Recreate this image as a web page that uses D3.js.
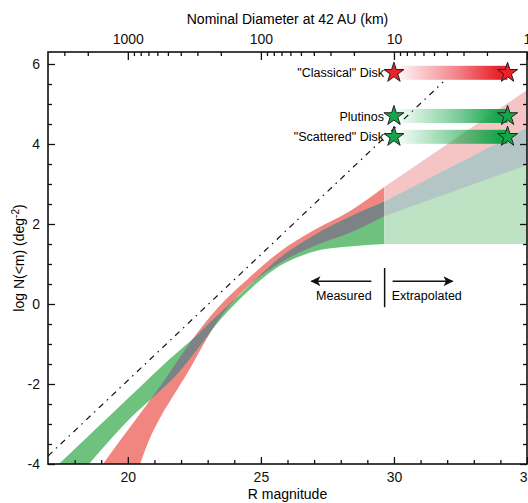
<!DOCTYPE html>
<html>
<head>
<meta charset="utf-8">
<script src="https://cdn.jsdelivr.net/npm/d3@7"></script>
<style>
  body { margin: 0; background: #fff; }
  svg { font-family: "Liberation Sans", Arial, Helvetica, sans-serif; }
</style>
</head>
<body>
<script>
// tick labels
const magTicks = [20, 25, 30, 35];
const nTicks = [-4, -2, 0, 2, 4, 6];
const diamTicks = [1000, 100, 10, 1];

// band edges in the measured range, [R mag, log N]
const redUpper = [[18.5,-4.53],[19.07,-4],[19.7,-3.42],[20.34,-2.85],[21.4,-1.88],[22.41,-0.9],[23.4,-0.08],[24.5,0.62],[25.7,1.3],[27,1.85],[28.34,2.32],[29.65,2.93]];
const redLower = [[20.2,-4.5],[20.46,-4],[20.8,-3.4],[21.25,-2.8],[21.8,-2.2],[22.35,-1.6],[22.85,-1.0],[23.35,-0.45],[24.0,0.1],[24.8,0.6],[25.7,1.02],[27,1.45],[28.34,1.78],[29.65,2.2]];
const greenUpper = [[16.9,-4.33],[17.41,-4],[18.5,-3.31],[19.5,-2.68],[20.5,-2.05],[21.5,-1.42],[22.45,-0.87],[23.4,-0.27],[24.5,0.42],[25.7,1.15],[27,1.72],[28.34,2.18],[29.65,2.56]];
const greenLower = [[18.0,-4.42],[18.54,-4],[19.33,-3.4],[20.1,-2.85],[21.0,-2.3],[21.9,-1.72],[22.7,-1.05],[23.4,-0.45],[24.1,0.05],[24.9,0.55],[25.7,0.95],[26.5,1.2],[27.3,1.36],[28.34,1.44],[29.65,1.5]];

// extrapolated part
const redUpperExt = [[29.65,2.93],[35,5.35]];
const redLowerExt = [[29.65,2.2],[35,3.475]];
const greenUpperExt = [[29.65,2.56],[35,4.4]];
const greenLowerExt = [[29.65,1.5],[35,1.5]];

// reference line
const refLine = [[17,-3.8],[31.85,5.55]];

const measuredLimit = 29.65;

// populations
const groups = ['"Classical" Disk', 'Plutinos', '"Scattered" Disk'];
const groupLogN = [5.78, 4.7, 4.18];
const starMags = [30, 34.27];

const groupFill = ["#e8212b", "#16a64a", "#16a64a"];

const W = 528, H = 503;
const pLeft = 48, pRight = 527, pTop = 52, pBottom = 464;

const svg = d3.select("body").append("svg")
  .attr("width", W)
  .attr("height", H);

const x = d3.scaleLinear().domain([17, 35]).range([pLeft, pRight]);
const y = d3.scaleLinear().domain([-4, 6.3]).range([pBottom, pTop]);

// diameter at 42 AU for a given R magnitude
const diam = m => 1000 * Math.pow(10, -(m - 20) / 5);
const xTop = d3.scaleLog().domain([diam(17), diam(35)]).range([pLeft, pRight]);

const defs = svg.append("defs");
defs.append("clipPath").attr("id", "plot")
  .append("rect").attr("x", pLeft).attr("y", pTop)
  .attr("width", pRight - pLeft).attr("height", pBottom - pTop);
defs.append("clipPath").attr("id", "meas")
  .append("rect").attr("x", pLeft).attr("y", pTop)
  .attr("width", x(measuredLimit) - pLeft).attr("height", pBottom - pTop);

const edge = d3.line().x(d => x(d[0])).y(d => y(d[1])).curve(d3.curveMonotoneX);
function bandPath(up, lo) {
  return edge(up) + "L" + edge(lo.slice().reverse()).slice(1) + "Z";
}

const plot = svg.append("g").attr("clip-path", "url(#plot)");

// measured region
const meas = plot.append("g").attr("clip-path", "url(#meas)");
const greenMeas = bandPath(greenUpper, greenLower);
const redMeas = bandPath(redUpper, redLower);
defs.append("clipPath").attr("id", "greenMeas").append("path").attr("d", greenMeas);
meas.append("path").attr("d", redMeas).attr("fill", "#f0867f");
meas.append("path").attr("d", greenMeas).attr("fill", "#6fc27e");
meas.append("g").attr("clip-path", "url(#greenMeas)")
  .append("path").attr("d", redMeas).attr("fill", "#7c8286");

// extrapolated region
const greenExt = bandPath(greenUpperExt, greenLowerExt);
const redExt = bandPath(redUpperExt, redLowerExt);
defs.append("clipPath").attr("id", "greenExt").append("path").attr("d", greenExt);
plot.append("path").attr("d", redExt).attr("fill", "#f5c4c4");
plot.append("path").attr("d", greenExt).attr("fill", "#bee2c4");
plot.append("g").attr("clip-path", "url(#greenExt)")
  .append("path").attr("d", redExt).attr("fill", "#b3c5c5");

// dash-dot line
plot.append("path")
  .attr("d", d3.line().x(d => x(d[0])).y(d => y(d[1]))(refLine))
  .attr("fill", "none")
  .attr("stroke", "#111")
  .attr("stroke-width", 1.2)
  .attr("stroke-dasharray", "6,5,1.5,5");

// gradient bars and stars
groups.forEach((g, i) => {
  const grad = defs.append("linearGradient").attr("id", "grad" + i)
    .attr("x1", "0%").attr("x2", "100%");
  grad.append("stop").attr("offset", "0%").attr("stop-color", groupFill[i]).attr("stop-opacity", 0);
  grad.append("stop").attr("offset", "55%").attr("stop-color", groupFill[i]).attr("stop-opacity", 0.55);
  grad.append("stop").attr("offset", "92%").attr("stop-color", groupFill[i]).attr("stop-opacity", 1);

  svg.append("rect")
    .attr("x", x(starMags[0]))
    .attr("y", y(groupLogN[i]) - 7)
    .attr("width", x(starMags[1]) - x(starMags[0]))
    .attr("height", 14)
    .attr("fill", "url(#grad" + i + ")");

  starMags.forEach(m => {
    svg.append("path")
      .attr("d", d3.symbol(d3.symbolStar, 125)())
      .attr("transform", "translate(" + x(m) + "," + y(groupLogN[i]) + ")")
      .attr("fill", groupFill[i])
      .attr("stroke", "#222")
      .attr("stroke-width", 1);
  });

  svg.append("text")
    .attr("x", x(starMags[0]) - 10)
    .attr("y", y(groupLogN[i]) + 4.5)
    .attr("text-anchor", "end")
    .style("font-size", "12.5px")
    .text(g);
});

// measured / extrapolated marker
const arrowY = 0.57;
defs.append("marker").attr("id", "head")
  .attr("viewBox", "0 0 10 10").attr("refX", 9).attr("refY", 5)
  .attr("markerWidth", 13).attr("markerHeight", 10)
  .attr("markerUnits", "userSpaceOnUse").attr("orient", "auto")
  .append("path").attr("d", "M0,0L10,5L0,10L2.5,5Z").attr("fill", "#111");

svg.append("line")
  .attr("x1", x(measuredLimit)).attr("x2", x(measuredLimit))
  .attr("y1", y(0.9)).attr("y2", y(-0.08))
  .attr("stroke", "#111").attr("stroke-width", 1.5);
svg.append("line")
  .attr("x1", x(29.15)).attr("x2", x(26.9))
  .attr("y1", y(arrowY)).attr("y2", y(arrowY))
  .attr("stroke", "#111").attr("stroke-width", 1.5)
  .attr("marker-end", "url(#head)");
svg.append("line")
  .attr("x1", x(29.95)).attr("x2", x(32.2))
  .attr("y1", y(arrowY)).attr("y2", y(arrowY))
  .attr("stroke", "#111").attr("stroke-width", 1.5)
  .attr("marker-end", "url(#head)");
svg.append("text")
  .attr("x", x(measuredLimit) - 13).attr("y", y(0.1))
  .attr("text-anchor", "end").style("font-size", "12.5px")
  .text("Measured");
svg.append("text")
  .attr("x", x(measuredLimit) + 7).attr("y", y(0.1))
  .attr("text-anchor", "start").style("font-size", "12.5px")
  .text("Extrapolated");

// axes
const minorMag = d3.range(18, 35).filter(v => v % 5 !== 0);
const minorN = d3.range(-3.5, 6.01, 0.5).filter(v => v % 2 !== 0);
const minorDiam = [];
[1, 10, 100, 1000].forEach(dec => {
  for (let k = 2; k <= 9; k++) {
    const v = k * dec;
    if (v < diam(17)) minorDiam.push(v);
  }
});

const fmt = d => String(d);

svg.append("g").attr("transform", "translate(0," + pBottom + ")")
  .call(d3.axisBottom(x).tickValues(magTicks).tickFormat(fmt).tickSizeInner(-7).tickSizeOuter(0).tickPadding(8));
svg.append("g").attr("transform", "translate(0," + pBottom + ")")
  .call(d3.axisBottom(x).tickValues(minorMag).tickFormat("").tickSizeInner(-4).tickSizeOuter(0));

svg.append("g").attr("transform", "translate(" + pLeft + ",0)")
  .call(d3.axisLeft(y).tickValues(nTicks).tickFormat(fmt).tickSizeInner(-7).tickSizeOuter(0).tickPadding(8));
svg.append("g").attr("transform", "translate(" + pLeft + ",0)")
  .call(d3.axisLeft(y).tickValues(minorN).tickFormat("").tickSizeInner(-4).tickSizeOuter(0));

svg.append("g").attr("transform", "translate(" + pRight + ",0)")
  .call(d3.axisRight(y).tickValues(nTicks).tickFormat("").tickSizeInner(-7).tickSizeOuter(0));
svg.append("g").attr("transform", "translate(" + pRight + ",0)")
  .call(d3.axisRight(y).tickValues(minorN).tickFormat("").tickSizeInner(-4).tickSizeOuter(0));

svg.append("g").attr("transform", "translate(0," + pTop + ")")
  .call(d3.axisTop(xTop).tickValues(diamTicks).tickFormat(fmt).tickSizeInner(-8).tickSizeOuter(0).tickPadding(8));
svg.append("g").attr("transform", "translate(0," + pTop + ")")
  .call(d3.axisTop(xTop).tickValues(minorDiam).tickFormat("").tickSizeInner(-4).tickSizeOuter(0));

svg.selectAll(".tick text").style("font-size", "14px").attr("fill", "#111");
svg.selectAll(".tick line").attr("stroke", "#111").attr("stroke-width", 1.3);
svg.selectAll(".domain").remove();

svg.append("rect")
  .attr("x", pLeft).attr("y", pTop)
  .attr("width", pRight - pLeft).attr("height", pBottom - pTop)
  .attr("fill", "none").attr("stroke", "#111").attr("stroke-width", 1.6);

// titles
svg.append("text")
  .attr("x", (pLeft + pRight) / 2).attr("y", 24)
  .attr("text-anchor", "middle").style("font-size", "14px")
  .text("Nominal Diameter at 42 AU (km)");
svg.append("text")
  .attr("x", (pLeft + pRight) / 2).attr("y", 499)
  .attr("text-anchor", "middle").style("font-size", "14px")
  .text("R magnitude");

const ylab = svg.append("text")
  .attr("transform", "translate(24," + ((pTop + pBottom) / 2) + ") rotate(-90)")
  .attr("text-anchor", "middle").style("font-size", "14px");
ylab.append("tspan").text("log N(<m)  (deg");
ylab.append("tspan").attr("dy", -5).style("font-size", "10px").text("-2");
ylab.append("tspan").attr("dy", 5).text(")");
</script>
</body>
</html>
